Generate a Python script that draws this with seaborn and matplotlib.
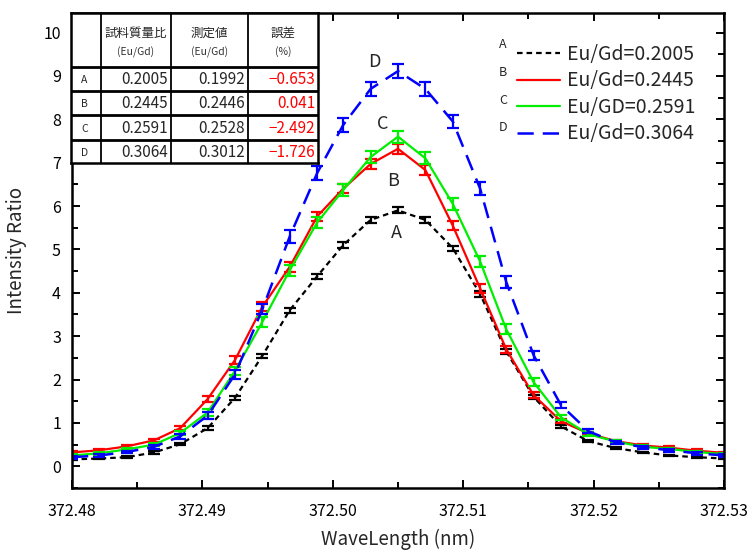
import matplotlib
matplotlib.use("Agg")
import pandas as pd
import matplotlib.pyplot as plt
import seaborn as sns
from matplotlib.lines import Line2D
from matplotlib.ticker import MultipleLocator

# -----------------------------
# Data
# -----------------------------
wavelength = [372.4800, 372.4821, 372.4842, 372.4863, 372.4883, 372.4904,
              372.4925, 372.4946, 372.4967, 372.4988, 372.5008, 372.5029,
              372.5050, 372.5071, 372.5092, 372.5113, 372.5133, 372.5154,
              372.5175, 372.5196, 372.5217, 372.5238, 372.5258, 372.5279,
              372.5300]

ratio_a = [0.16, 0.18, 0.21, 0.32, 0.51, 0.88, 1.58, 2.55, 3.60, 4.38, 5.10, 5.68,
           5.90, 5.68, 5.03, 3.97, 2.65, 1.60, 0.92, 0.58, 0.42, 0.32, 0.25, 0.21, 0.18]
ratio_b = [0.32, 0.37, 0.46, 0.60, 0.88, 1.55, 2.45, 3.68, 4.60, 5.76, 6.40, 6.97,
           7.32, 6.83, 5.55, 4.10, 2.70, 1.64, 1.04, 0.76, 0.58, 0.48, 0.43, 0.36, 0.31]
ratio_c = [0.25, 0.30, 0.39, 0.50, 0.77, 1.24, 2.20, 3.33, 4.52, 5.62, 6.37, 7.13,
           7.60, 7.10, 6.05, 4.72, 3.16, 1.94, 1.13, 0.74, 0.57, 0.45, 0.40, 0.33, 0.28]
ratio_d = [0.21, 0.25, 0.33, 0.45, 0.69, 1.17, 2.12, 3.62, 5.30, 6.76, 7.87, 8.70,
           9.11, 8.70, 7.95, 6.40, 4.25, 2.56, 1.41, 0.81, 0.55, 0.44, 0.37, 0.30, 0.25]

err_a = [0.02, 0.02, 0.02, 0.03, 0.03, 0.04, 0.05, 0.05, 0.06, 0.06, 0.06, 0.06,
         0.07, 0.06, 0.06, 0.06, 0.05, 0.05, 0.04, 0.03, 0.03, 0.02, 0.02, 0.02, 0.02]
err_b = [0.03, 0.03, 0.03, 0.04, 0.05, 0.07, 0.09, 0.10, 0.11, 0.11, 0.11, 0.11,
         0.11, 0.11, 0.11, 0.10, 0.08, 0.07, 0.05, 0.04, 0.03, 0.03, 0.03, 0.03, 0.03]
err_c = [0.03, 0.03, 0.03, 0.04, 0.05, 0.08, 0.10, 0.12, 0.13, 0.13, 0.13, 0.13,
         0.14, 0.14, 0.13, 0.12, 0.11, 0.09, 0.06, 0.04, 0.03, 0.03, 0.03, 0.03, 0.03]
err_d = [0.03, 0.03, 0.03, 0.04, 0.05, 0.08, 0.10, 0.12, 0.15, 0.16, 0.16, 0.16,
         0.16, 0.16, 0.16, 0.15, 0.13, 0.10, 0.07, 0.05, 0.04, 0.03, 0.03, 0.03, 0.03]

series_keys = ["A", "B", "C", "D"]
legend_labels = ["Eu/Gd=0.2005", "Eu/Gd=0.2445", "Eu/GD=0.2591", "Eu/Gd=0.3064"]

# table contents
table_header = [["試料質量比", "(Eu/Gd)"], ["測定値", "(Eu/Gd)"], ["誤差", "(%)"]]
table_prepared = ["0.2005", "0.2445", "0.2591", "0.3064"]
table_measured = ["0.1992", "0.2446", "0.2528", "0.3012"]
table_error = ["\u22120.653", "0.041", "\u22122.492", "\u22121.726"]

# -----------------------------
# Styles
# -----------------------------
colors = {"A": "#000000", "B": "#ff0000", "C": "#00ee00", "D": "#0000ff"}
dashes = {"A": (2.5, 1.8), "B": "", "C": "", "D": (6.5, 3.6)}
widths = {"A": 1.6, "B": 1.6, "C": 1.6, "D": 1.8}

values = {"A": ratio_a, "B": ratio_b, "C": ratio_c, "D": ratio_d}
errors = {"A": err_a, "B": err_b, "C": err_c, "D": err_d}

rows = []
for key in series_keys:
    for w, v, e in zip(wavelength, values[key], errors[key]):
        rows.append({"wavelength": w, "ratio": v, "err": e, "series": key})
df = pd.DataFrame(rows)

sns.set_theme(style="ticks")
plt.rcParams["font.family"] = ["Noto Sans CJK JP", "DejaVu Sans"]

W, H = 754, 550
fig = plt.figure(figsize=(W / 100, H / 100), dpi=100)
ax = fig.add_axes([72 / W, 1 - 488 / H, 652 / W, 475 / H])

# -----------------------------
# Lines + error bars
# -----------------------------
for key in series_keys:
    sub = df[df["series"] == key]
    sns.lineplot(data=sub, x="wavelength", y="ratio", ax=ax,
                 color=colors[key], linewidth=widths[key],
                 dashes=False, errorbar=None, legend=False,
                 linestyle=(0, dashes[key]) if dashes[key] else "-")
    ax.errorbar(sub["wavelength"], sub["ratio"], yerr=sub["err"],
                fmt="none", ecolor=colors[key], elinewidth=1.6,
                capsize=4, capthick=1.6, clip_on=True)

ax.set_xlim(372.48, 372.53)
ax.set_ylim(-0.5, 10.45)
ax.xaxis.set_major_locator(MultipleLocator(0.01))
ax.xaxis.set_minor_locator(MultipleLocator(0.005))
ax.yaxis.set_major_locator(MultipleLocator(1))
ax.yaxis.set_minor_locator(MultipleLocator(0.5))
ax.xaxis.set_major_formatter(matplotlib.ticker.FormatStrFormatter("%.2f"))
ax.tick_params(which="both", direction="in", top=True, right=True,
               width=1.4, labelsize=11.5, colors="black")
ax.tick_params(which="major", length=6)
ax.tick_params(axis="x", which="major", pad=11)
ax.tick_params(axis="y", which="major", pad=8)
ax.tick_params(which="minor", length=4)
for sp in ax.spines.values():
    sp.set_visible(True)
    sp.set_linewidth(1.8)
    sp.set_color("black")

ax.set_xlabel("WaveLength (nm)", fontsize=13.5, labelpad=6)
ax.set_ylabel("Intensity Ratio", fontsize=13.5, labelpad=12)

# curve letters
ax.text(372.5032, 9.33, "D", fontsize=13, ha="center", va="center")
ax.text(372.5038, 7.88, "C", fontsize=13, ha="center", va="center")
ax.text(372.5046, 6.58, "B", fontsize=13, ha="center", va="center")
ax.text(372.5049, 5.38, "A", fontsize=13, ha="center", va="center")

# -----------------------------
# Legend
# -----------------------------
handles = [Line2D([0], [0], color=colors[k], linewidth=widths[k],
                  linestyle=(0, dashes[k]) if dashes[k] else "-")
           for k in series_keys]
ax.legend(handles, legend_labels, loc="upper left",
          bbox_to_anchor=((517 - 72) / 652, (488 - 44) / 475),
          frameon=False, fontsize=14, handlelength=2.2, handletextpad=0.35,
          labelspacing=0.28, borderpad=0, borderaxespad=0)
for key, ypx in zip(series_keys, [44, 72, 101, 128]):
    fig.text(503 / W, 1 - ypx / H, key, fontsize=9, ha="center", va="center")

# -----------------------------
# Table (top-left)
# -----------------------------
tx0, tx1, ty0, ty1 = 71, 318, 13, 163
tab = fig.add_axes([tx0 / W, 1 - ty1 / H, (tx1 - tx0) / W, (ty1 - ty0) / H])
tab.set_xlim(tx0, tx1)
tab.set_ylim(ty1, ty0)
tab.set_facecolor("white")
tab.set_xticks([])
tab.set_yticks([])
for sp in tab.spines.values():
    sp.set_linewidth(1.8)
    sp.set_color("black")

col_edges = [71, 101, 171, 248, 318]
row_edges = [13, 67, 91, 115, 140, 163]
for x in col_edges[1:-1]:
    tab.plot([x, x], [ty0, ty1], color="black", linewidth=1.3)
for y in row_edges[1:-1]:
    tab.plot([tx0, tx1], [y, y], color="black", linewidth=2.0)

for i, (l1, l2) in enumerate(table_header):
    cx = (col_edges[i + 1] + col_edges[i + 2]) / 2
    tab.text(cx, 33, l1, fontsize=9, ha="center", va="center")
    tab.text(cx, 52, l2, fontsize=7.5, ha="center", va="center", color="#333333")

for r in range(4):
    cy = (row_edges[r + 1] + row_edges[r + 2]) / 2 + 1
    tab.text(col_edges[0] + 10, cy, series_keys[r], fontsize=7.5, ha="left", va="center")
    tab.text(col_edges[2] - 3, cy, table_prepared[r], fontsize=11, ha="right", va="center")
    tab.text(col_edges[3] - 3, cy, table_measured[r], fontsize=11, ha="right", va="center")
    tab.text(col_edges[4] - 3, cy, table_error[r], fontsize=11, ha="right", va="center",
             color="#ff0000")

plt.savefig("out.png", dpi=100)
plt.close()
